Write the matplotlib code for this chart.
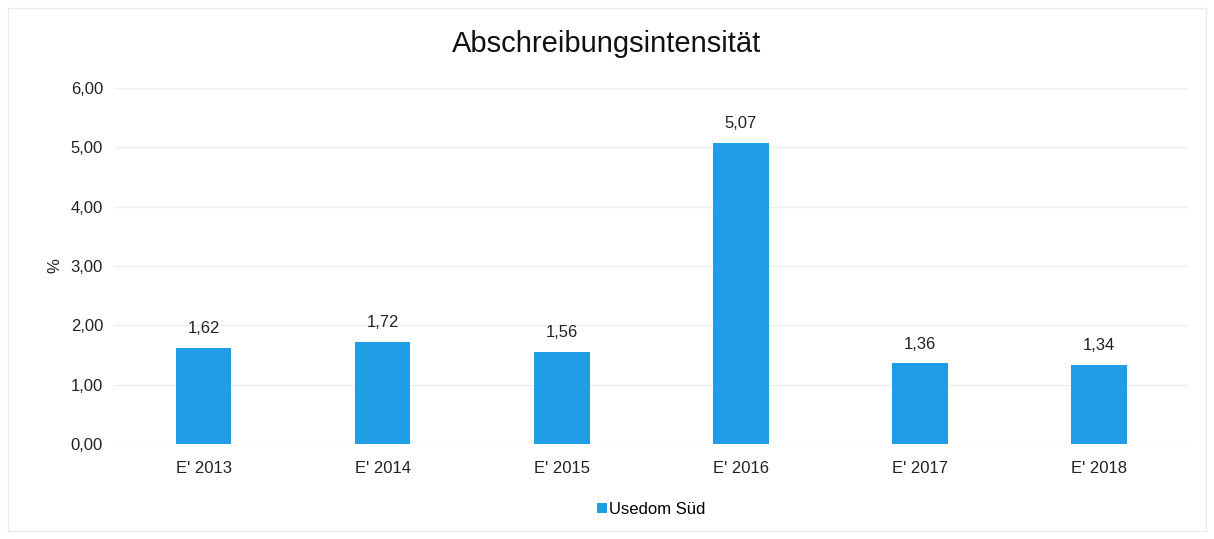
import matplotlib.pyplot as plt
from matplotlib.patches import Rectangle

plt.rcParams['font.family'] = ['Liberation Sans', 'DejaVu Sans']

categories = ["E' 2013", "E' 2014", "E' 2015", "E' 2016", "E' 2017", "E' 2018"]
values = [1.62, 1.72, 1.56, 5.07, 1.36, 1.34]
yticks = [0, 1, 2, 3, 4, 5, 6]
series_name = "Usedom Süd"
bar_color = '#1F9DE5'

fig = plt.figure(figsize=(12.14, 5.39), dpi=100)
ax = fig.add_axes([0.094, 0.176, 0.885, 0.661])

x = range(len(categories))
bars = ax.bar(x, values, width=0.31, color=bar_color, label=series_name, zorder=3)
for xi, v in zip(x, values):
    ax.text(xi, v + 0.2, f"{v:.2f}".replace('.', ','), ha='center', va='bottom',
            fontsize=12, color='#222222')

ax.set_xlim(-0.5, len(categories) - 0.5)
ax.set_ylim(0, 6)
ax.set_yticks(yticks)
ax.set_yticklabels([f"{t:.2f}".replace('.', ',') for t in yticks])
ax.set_xticks(list(x))
ax.set_xticklabels(categories)
ax.tick_params(axis='both', length=0, labelsize=12, colors='#222222')
ax.tick_params(axis='y', pad=8)
ax.tick_params(axis='x', pad=12)
ax.grid(axis='y', color='#efefef', linewidth=1, zorder=0)
for s in ax.spines.values():
    s.set_visible(False)
ax.set_ylabel('%', fontsize=12, color='#222222', labelpad=6)

fig.suptitle('Abschreibungsintensität', y=0.945, fontsize=21, color='#111111')

leg = ax.legend(loc='upper center', bbox_to_anchor=(0.5, -0.12), frameon=False,
                fontsize=12, handlelength=0.6, handleheight=0.6, handletextpad=0.1)

fig.patches.append(Rectangle((0.007, 0.015), 0.986, 0.97, transform=fig.transFigure,
                             fill=False, edgecolor='#ebebeb', linewidth=1))

fig.savefig('out.png', dpi=100)
